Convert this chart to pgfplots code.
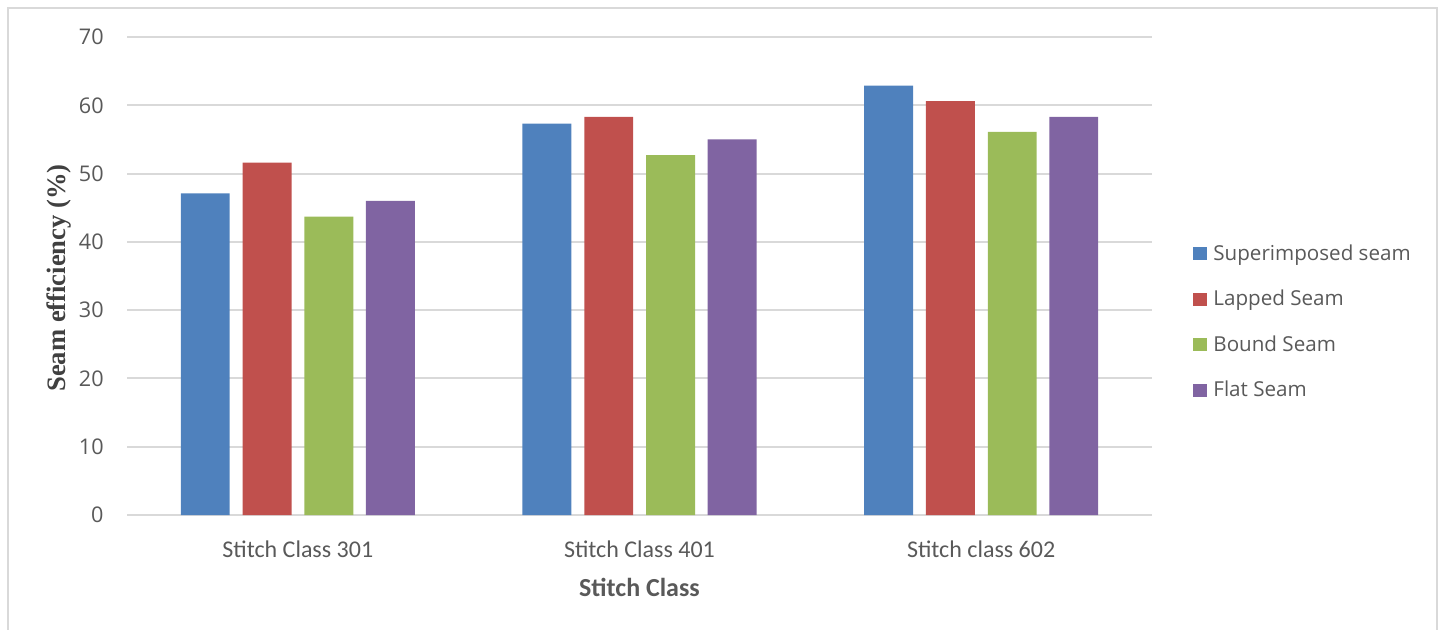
\documentclass[border=0pt]{standalone}
\usepackage{fontspec}
\setmainfont{Carlito}
\newfontfamily\osans{Open Sans}
\newfontfamily\lserif{Liberation Serif}
\usepackage{pgfplots}
\pgfplotsset{compat=1.18}
\definecolor{cBlue}{HTML}{4F81BD}
\definecolor{cRed}{HTML}{C0504D}
\definecolor{cGreen}{HTML}{9BBB59}
\definecolor{cPurple}{HTML}{8064A2}
\definecolor{gridc}{HTML}{D9D9D9}
\definecolor{txt}{HTML}{595959}
\definecolor{ylab}{HTML}{404040}
\begin{document}
\begin{tikzpicture}[x=1pt,y=1pt]
\useasboundingbox (0,0) rectangle (722.5,314.5);
\draw[gridc, line width=1pt] (4,-2) -- (4,310.5) -- (718.5,310.5) -- (718.5,-2);
\begin{axis}[
  at={(63.5pt,57pt)}, anchor=south west,
  scale only axis, width=512.5pt, height=239pt,
  xmin=-0.5, xmax=2.5, ymin=0, ymax=70,
  xtick={0,1,2},
  xticklabels={Stitch Class 301, Stitch Class 401, Stitch class 602},
  ytick={0,10,...,70},
  major tick length=0pt,
  axis line style={draw=none},
  ymajorgrids, grid style={gridc, line width=1pt},
  /pgf/number format/assume math mode=true,
  xticklabel style={font=\fontsize{12}{14}\selectfont, text=txt, inner sep=0pt, anchor=north, yshift=-12.5pt},
  yticklabel style={font=\osans\fontsize{10.8}{12}\selectfont, text=txt, inner sep=0pt, anchor=east, xshift=-11.5pt},
  xlabel={Stitch Class},
  x label style={at={(axis description cs:0.5,0)}, anchor=north, yshift=-31.5pt, inner sep=0pt, font=\fontsize{13}{15}\selectfont\bfseries, text=txt},
  ylabel={Seam efficiency (\%)},
  y label style={at={(axis description cs:-0.0663,0.496)}, anchor=center, inner sep=0pt, font=\lserif\bfseries\fontsize{13.3}{15}\selectfont, text=ylab},
  legend style={at={(axis description cs:1.040,0.565)}, anchor=north west, draw=none, fill=none, inner sep=0pt, font=\osans\fontsize{10.3}{12}\selectfont, text=txt, row sep=12.75pt, nodes={inner sep=0pt, text height=7.5pt, text depth=2.5pt}, /tikz/every odd column/.append style={column sep=3pt}},
  legend cell align=left,
  legend image code/.code={\fill[#1] (0pt,-2.5pt) rectangle (7pt,4pt);},
]
\addplot[ybar, bar width=0.143, bar shift=-0.271, fill=cBlue, draw=none] coordinates {(0,47.1) (1,57.3) (2,62.9)};
\addlegendentry{Superimposed seam}
\addplot[ybar, bar width=0.143, bar shift=-0.090, fill=cRed, draw=none] coordinates {(0,51.6) (1,58.3) (2,60.6)};
\addlegendentry{Lapped Seam}
\addplot[ybar, bar width=0.143, bar shift=0.091, fill=cGreen, draw=none] coordinates {(0,43.7) (1,52.7) (2,56.1)};
\addlegendentry{Bound Seam}
\addplot[ybar, bar width=0.143, bar shift=0.271, fill=cPurple, draw=none] coordinates {(0,46.0) (1,55.0) (2,58.3)};
\addlegendentry{Flat Seam}
\end{axis}
\end{tikzpicture}
\end{document}
